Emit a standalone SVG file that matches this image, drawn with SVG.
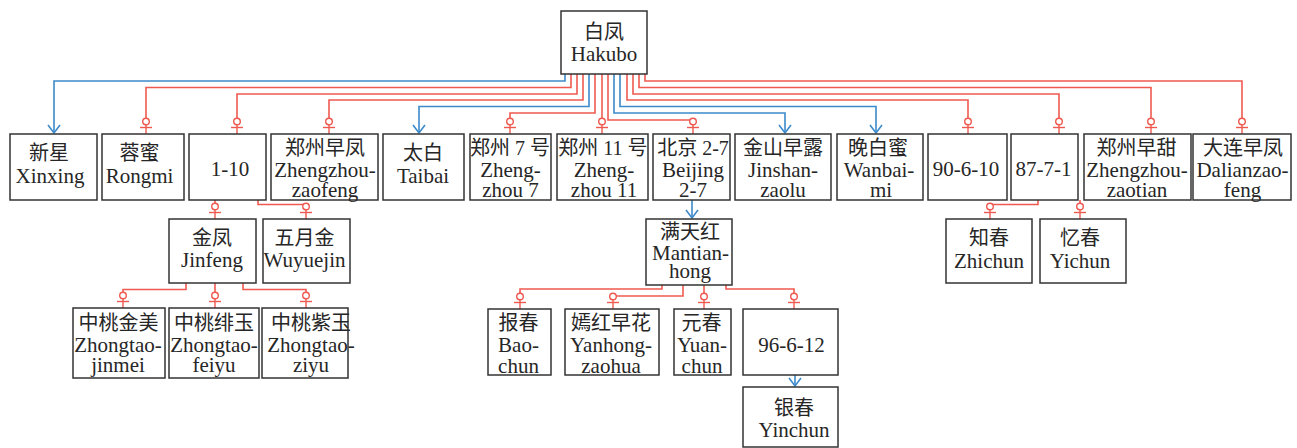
<svg xmlns="http://www.w3.org/2000/svg" xmlns:xlink="http://www.w3.org/1999/xlink" width="1297" height="448" viewBox="0 0 1297 448">
<style>
.box{fill:#fff;stroke:#333;stroke-width:1.5}
text{font-family:"Liberation Serif","Noto Sans CJK SC",serif;fill:#262626;text-anchor:middle}
.cn{font-size:20px}
.en{font-size:21px}
.r{fill:none;stroke:#ef5a50;stroke-width:1.6}
.b{fill:none;stroke:#3d8acb;stroke-width:1.6;marker-end:url(#arr)}
.fc{fill:#fff;stroke:#ef5a50;stroke-width:1.4}
.fl{stroke:#ef5a50;stroke-width:1.4}
</style>
<defs>
<marker id="arr" viewBox="-10 -8 12 16" refX="0" refY="0" markerWidth="12" markerHeight="16" markerUnits="userSpaceOnUse" orient="auto">
<path d="M-8,-6 L0,0 L-8,6" fill="none" stroke="#3d8acb" stroke-width="1.6"/>
</marker>
<g id="fem">
<line class="fl" x1="0" y1="-9.2" x2="0" y2="0"/>
<line class="fl" x1="-6" y1="-6.5" x2="6" y2="-6.5"/>
<circle class="fc" cx="0" cy="-12.5" r="3.3"/>
</g>
</defs>

<g id="connectors">
<path class="b" d="M565,74 V81 H54 V133"/>
<path class="r" d="M571,74 V87.5 H146 V119"/>
<path class="r" d="M577,74 V94 H237 V119"/>
<path class="r" d="M583,74 V100 H329 V119"/>
<path class="b" d="M589,74 V106.5 H419 V133"/>
<path class="r" d="M595,74 V113 H510 V119"/>
<path class="r" d="M602,74 V119"/>
<path class="r" d="M608,74 V120 H693"/>
<path class="b" d="M614,74 V113 H785 V133"/>
<path class="b" d="M620,74 V106.5 H876 V133"/>
<path class="r" d="M627,74 V100 H968 V119"/>
<path class="r" d="M633,74 V94 H1059 V119"/>
<path class="r" d="M639,74 V87.5 H1151 V119"/>
<path class="r" d="M645,74 V81 H1242 V119"/>
<use xlink:href="#fem" href="#fem" transform="translate(146,134)"/>
<use xlink:href="#fem" href="#fem" transform="translate(237,134)"/>
<use xlink:href="#fem" href="#fem" transform="translate(329,134)"/>
<use xlink:href="#fem" href="#fem" transform="translate(510,134)"/>
<use xlink:href="#fem" href="#fem" transform="translate(602,134)"/>
<use xlink:href="#fem" href="#fem" transform="translate(693,134)"/>
<use xlink:href="#fem" href="#fem" transform="translate(968,134)"/>
<use xlink:href="#fem" href="#fem" transform="translate(1059,134)"/>
<use xlink:href="#fem" href="#fem" transform="translate(1151,134)"/>
<use xlink:href="#fem" href="#fem" transform="translate(1242,134)"/>

<path class="r" d="M215,200 V204"/>
<path class="r" d="M258,200 V204.5 H306"/>
<use xlink:href="#fem" href="#fem" transform="translate(215,219)"/>
<use xlink:href="#fem" href="#fem" transform="translate(306,219)"/>
<path class="b" d="M692,200 V218"/>
<path class="r" d="M1038,200 V204.5 H990"/>
<path class="r" d="M1080,200 V204"/>
<use xlink:href="#fem" href="#fem" transform="translate(990,219)"/>
<use xlink:href="#fem" href="#fem" transform="translate(1080,219)"/>

<path class="r" d="M186,283 V289.5 H123 V293"/>
<path class="r" d="M215,283 V293"/>
<path class="r" d="M243,283 V289.5 H306 V293"/>
<use xlink:href="#fem" href="#fem" transform="translate(123,308)"/>
<use xlink:href="#fem" href="#fem" transform="translate(215,308)"/>
<use xlink:href="#fem" href="#fem" transform="translate(306,308)"/>

<path class="r" d="M662,285 V289 H520 V294"/>
<path class="r" d="M683,285 V296 H613"/>
<path class="r" d="M704,285 V294"/>
<path class="r" d="M726,285 V289 H794 V294"/>
<use xlink:href="#fem" href="#fem" transform="translate(520,309)"/>
<use xlink:href="#fem" href="#fem" transform="translate(613,309)"/>
<use xlink:href="#fem" href="#fem" transform="translate(704,309)"/>
<use xlink:href="#fem" href="#fem" transform="translate(794,309)"/>
<path class="b" d="M795,375 V386"/>
</g>

<g id="hakubo"><rect class="box" x="561" y="11" width="86" height="63"/><text class="cn" x="604" y="38.5">白凤</text><text class="en" x="604" y="61">Hakubo</text></g>

<g id="xinxing"><rect class="box" x="10" y="134" width="87" height="66"/><text class="cn" x="49" y="160">新星</text><text class="en" x="50" y="183">Xinxing</text></g>
<g id="rongmi"><rect class="box" x="102" y="134" width="82" height="66"/><text class="cn" x="139.5" y="160">蓉蜜</text><text class="en" x="139.5" y="183">Rongmi</text></g>
<g id="n1-10"><rect class="box" x="189" y="134" width="77" height="66"/><text class="en" x="230" y="176">1-10</text></g>
<g id="zhengzhouzaofeng"><rect class="box" x="271" y="134" width="107" height="66"/><text class="cn" x="325" y="155">郑州早凤</text><text class="en" x="325" y="176.5">Zhengzhou-</text><text class="en" x="325" y="196.5">zaofeng</text></g>
<g id="taibai"><rect class="box" x="383" y="134" width="81" height="66"/><text class="cn" x="423" y="160">太白</text><text class="en" x="423" y="183">Taibai</text></g>
<g id="zhengzhou7"><rect class="box" x="470" y="134" width="81" height="66"/><text class="cn" x="510" y="155">郑州 7 号</text><text class="en" x="510.5" y="176.5">Zheng-</text><text class="en" x="510.5" y="196.5">zhou 7</text></g>
<g id="zhengzhou11"><rect class="box" x="557" y="134" width="91" height="66"/><text class="cn" x="603" y="155">郑州 11 号</text><text class="en" x="604" y="176.5">Zheng-</text><text class="en" x="604" y="196.5">zhou 11</text></g>
<g id="beijing27"><rect class="box" x="653" y="134" width="77" height="66"/><text class="cn" x="693" y="155">北京 2-7</text><text class="en" x="693" y="176.5">Beijing</text><text class="en" x="693" y="196.5">2-7</text></g>
<g id="jinshanzaolu"><rect class="box" x="735" y="134" width="96" height="66"/><text class="cn" x="783" y="155">金山早露</text><text class="en" x="783" y="176.5">Jinshan-</text><text class="en" x="783" y="196.5">zaolu</text></g>
<g id="wanbaimi"><rect class="box" x="837" y="134" width="86" height="66"/><text class="cn" x="878" y="155">晚白蜜</text><text class="en" x="879" y="176.5">Wanbai-</text><text class="en" x="881" y="196.5">mi</text></g>
<g id="n90-6-10"><rect class="box" x="928" y="134" width="79" height="66"/><text class="en" x="966" y="176">90-6-10</text></g>
<g id="n87-7-1"><rect class="box" x="1011" y="134" width="67" height="66"/><text class="en" x="1043.5" y="176">87-7-1</text></g>
<g id="zhengzhouzaotian"><rect class="box" x="1084" y="134" width="107" height="66"/><text class="cn" x="1136.5" y="155">郑州早甜</text><text class="en" x="1137" y="176.5">Zhengzhou-</text><text class="en" x="1137" y="196.5">zaotian</text></g>
<g id="dalianzaofeng"><rect class="box" x="1193" y="134" width="98" height="66"/><text class="cn" x="1243" y="155">大连早凤</text><text class="en" x="1242.5" y="176.5">Dalianzao-</text><text class="en" x="1242.5" y="196.5">feng</text></g>

<g id="jinfeng"><rect class="box" x="169" y="219" width="87" height="64"/><text class="cn" x="212" y="245">金凤</text><text class="en" x="212" y="266.5">Jinfeng</text></g>
<g id="wuyuejin"><rect class="box" x="263" y="219" width="87" height="64"/><text class="cn" x="304.5" y="245">五月金</text><text class="en" x="304.5" y="266.5">Wuyuejin</text></g>
<g id="mantianhong"><rect class="box" x="646" y="219" width="86" height="66"/><text class="cn" x="690" y="238.5">满天红</text><text class="en" x="690.5" y="260">Mantian-</text><text class="en" x="690" y="278">hong</text></g>
<g id="zhichun"><rect class="box" x="946" y="219" width="86" height="64"/><text class="cn" x="989" y="245">知春</text><text class="en" x="989" y="267.5">Zhichun</text></g>
<g id="yichun"><rect class="box" x="1040" y="219" width="86" height="64"/><text class="cn" x="1080" y="245">忆春</text><text class="en" x="1080" y="267.5">Yichun</text></g>

<g id="zhongtaojinmei"><rect class="box" x="73" y="308" width="92" height="70"/><text class="cn" x="118.5" y="330">中桃金美</text><text class="en" x="118" y="351.5">Zhongtao-</text><text class="en" x="118" y="371.5">jinmei</text></g>
<g id="zhongtaofeiyu"><rect class="box" x="169" y="308" width="90" height="70"/><text class="cn" x="214" y="330">中桃绯玉</text><text class="en" x="214" y="351.5">Zhongtao-</text><text class="en" x="214" y="371.5">feiyu</text></g>
<g id="zhongtaoziyu"><rect class="box" x="262" y="308" width="86" height="70"/><text class="cn" x="311" y="330">中桃紫玉</text><text class="en" x="311" y="351.5">Zhongtao-</text><text class="en" x="311" y="371.5">ziyu</text></g>

<g id="baochun"><rect class="box" x="488" y="309" width="63" height="66"/><text class="cn" x="518.5" y="330">报春</text><text class="en" x="518.5" y="351.5">Bao-</text><text class="en" x="518.5" y="373">chun</text></g>
<g id="yanhongzaohua"><rect class="box" x="565" y="309" width="94" height="66"/><text class="cn" x="611" y="330">嫣红早花</text><text class="en" x="611" y="351.5">Yanhong-</text><text class="en" x="611" y="373">zaohua</text></g>
<g id="yuanchun"><rect class="box" x="674" y="309" width="57" height="66"/><text class="cn" x="701.5" y="330">元春</text><text class="en" x="702" y="351.5">Yuan-</text><text class="en" x="702" y="373">chun</text></g>
<g id="n96-6-12"><rect class="box" x="743" y="309" width="95" height="66"/><text class="en" x="791.5" y="351.5">96-6-12</text></g>
<g id="yinchun"><rect class="box" x="743" y="387" width="95" height="60"/><text class="cn" x="794" y="415">银春</text><text class="en" x="794" y="436.5">Yinchun</text></g>
</svg>
